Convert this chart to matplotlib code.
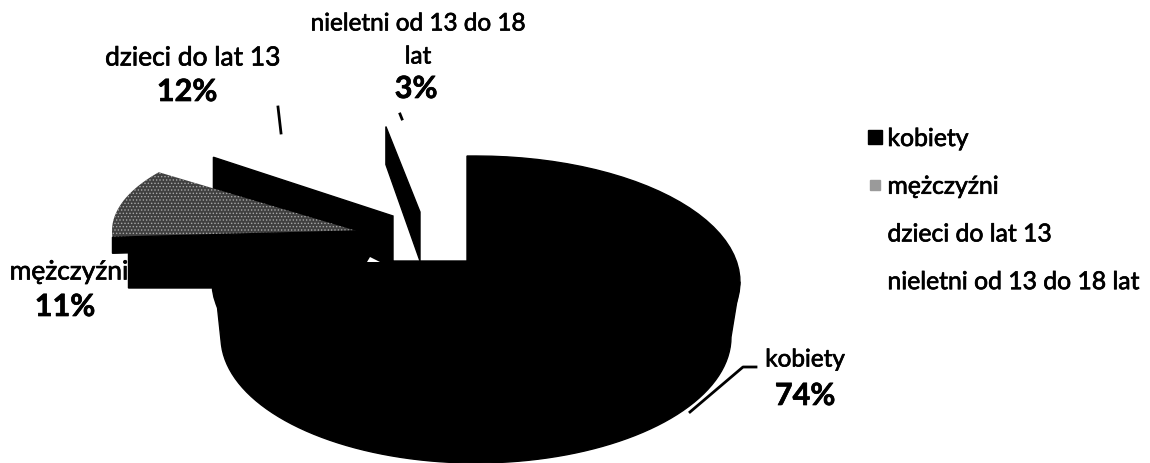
import numpy as np
import matplotlib
matplotlib.use("Agg")
import matplotlib.pyplot as plt
import matplotlib.patheffects as pe
from matplotlib.lines import Line2D
from matplotlib.patches import Polygon

plt.rcParams['font.family'] = ['Lato', 'DejaVu Sans']
plt.rcParams['hatch.linewidth'] = 0.6

categories = ["kobiety", "mężczyźni", "dzieci do lat 13", "nieletni od 13 do 18 lat"]
shares = [74, 11, 12, 3]

W, H = 1150, 464


def arc(start, stop, center, rx, ry):
    # angles in degrees, clockwise from 12 o'clock, y axis points down
    t = np.radians(np.linspace(start, stop, 80))
    return np.column_stack([center[0] + rx * np.sin(t), center[1] - ry * np.cos(t)])


def side_wall(a, b, depth_a, depth_b):
    return [a, b, (b[0], b[1] + depth_b), (a[0], a[1] + depth_a)]


fig = plt.figure(figsize=(W / 100, H / 100), dpi=100)
ax = fig.add_axes([0, 0, 1, 1])
ax.set_xlim(0, W)
ax.set_ylim(H, 0)
ax.axis("off")

edges = np.cumsum([0] + shares) * 3.6

# kobiety, the big slice: top face plus thick rim
apex = (467, 262)
top = arc(edges[0], edges[1], (476, 283), 264, 126)
front = arc(90, 90, (476, 283), 264, 126)
low = arc(90, edges[1], (476, 338), 255, 126)
corner = (top[-1][0], apex[1])
ax.add_patch(Polygon(np.vstack([[apex], [(apex[0], top[0][1])], top, [corner]]), fc="black", ec="black"))
ax.add_patch(Polygon(np.vstack([front, low, [corner]]), fc="black", ec="black"))

# dzieci do lat 13: white top, only the cut wall shows
apex = (393, 217)
far = arc(edges[2], edges[2], apex, 222, 100)[0]
ax.add_patch(Polygon(side_wall(apex, far, 46, 42), fc="black", ec="black"))

# nieletni: same thing, a thin sliver
apex = (420, 213)
far = arc(edges[3], edges[3], apex, 182, 87)[0]
ax.add_patch(Polygon(side_wall(apex, far, 49, 38), fc="black", ec="black"))

# mezczyzni: stippled top, lip and wall below
apex = (357, 232)
top = arc(edges[1], edges[2], apex, 245, 100)
left = top[0]
ax.add_patch(Polygon(np.vstack([[apex], top]), fc="#404040", ec="#a8a8a8", lw=0, hatch="....."))
ax.add_patch(Polygon(side_wall(apex, left, 16, 16), fc="black", ec="black"))
ax.add_patch(Polygon([apex, (apex[0] + 36, apex[1] + 30), (apex[0] - 144, apex[1] + 57),
                      (left[0] + 16, apex[1] + 57), (left[0] + 16, left[1] + 10)], fc="black", ec="black"))
# small white gap where the slices almost touch
ax.add_patch(Polygon([(apex[0] + 10, apex[1] + 31), (apex[0] + 13, apex[1] + 26),
                      (apex[0] + 23, apex[1] + 31)], fc="white", ec="none", zorder=3))

# leader lines
ax.plot([278, 281], [108, 134], color="black", lw=2)
ax.plot([400, 402], [115, 120], color="black", lw=2)
ax.plot([690, 743, 756], [413, 368, 368], color="black", lw=2)

# labels
label_size = 17.5
big_label = 19
pct_size = 22
thick = [pe.withStroke(linewidth=0.5, foreground="black")]
txt = dict(ha="center", va="center", path_effects=thick)
ax.text(805, 361, categories[0], fontsize=label_size, **txt)
ax.text(805, 397, f"{shares[0]}%", fontsize=pct_size, fontweight="bold", **txt)
ax.text(69, 273, categories[1], fontsize=big_label, **txt)
ax.text(65, 308, f"{shares[1]}%", fontsize=pct_size, fontweight="bold", **txt)
ax.text(193, 59, categories[2], fontsize=big_label, **txt)
ax.text(187, 93, f"{shares[2]}%", fontsize=pct_size, fontweight="bold", **txt)
ax.text(418, 25, "nieletni od 13 do 18", fontsize=label_size, **txt)
ax.text(418, 58, "lat", fontsize=label_size, **txt)
ax.text(416, 90, f"{shares[3]}%", fontsize=pct_size, fontweight="bold", **txt)

# legend, last two keys are white like in the scan
handles = [
    Line2D([], [], marker="s", ms=10, color="black", ls=""),
    Line2D([], [], marker="s", ms=7, color="#9a9a9a", ls=""),
    Line2D([], [], marker="s", ms=7, color="white", ls=""),
    Line2D([], [], marker="s", ms=7, color="white", ls=""),
]
leg = ax.legend(handles, categories, loc="upper left", bbox_to_anchor=(864 / W, 1 - 128 / H), frameon=False,
                fontsize=17.8, labelspacing=1.0, handletextpad=0.05, handlelength=0.9, borderpad=0, borderaxespad=0)
for t in leg.get_texts():
    t.set_path_effects(thick)

fig.savefig("out.png", dpi=100)
